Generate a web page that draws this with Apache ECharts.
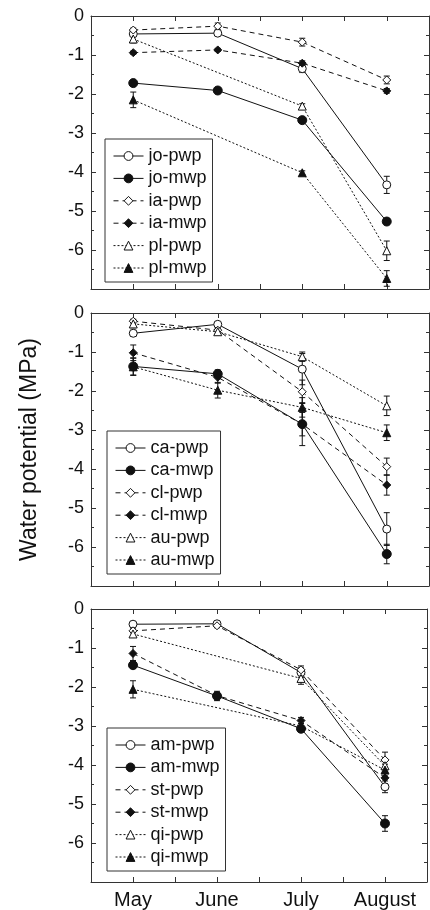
<!DOCTYPE html>
<html lang="en">
<head>
<meta charset="utf-8">
<title>Water potential</title>
<style>
  html, body { margin: 0; padding: 0; background: #fff; }
  #chart { width: 430px; height: 910px; }
</style>
</head>
<body>
<div id="chart"></div>
<script src="https://cdn.jsdelivr.net/npm/echarts@6/dist/echarts.min.js"></script>
<script>
// months on the x axis
var months = ['May', 'June', 'July', 'August'];
var yTicks = [0, -1, -2, -3, -4, -5, -6];

// top panel
var names1 = ['jo-pwp', 'jo-mwp', 'ia-pwp', 'ia-mwp', 'pl-pwp', 'pl-mwp'];
var values1 = [
  [-0.46, -0.44, -1.35, -4.33],
  [-1.72, -1.91, -2.67, -5.27],
  [-0.36, -0.26, -0.67, -1.64],
  [-0.94, -0.87, -1.21, -1.92],
  [-0.59, null, -2.31, -6.02],
  [-2.15, null, -4.02, -6.73]
];
var errors1 = [
  [0.05, 0.05, 0.1, 0.22],
  [0.04, 0.05, 0.06, 0.08],
  [0.05, 0.08, 0.1, 0.1],
  [0.04, 0.04, 0.06, 0.06],
  [0.1, null, 0.06, 0.25],
  [0.2, null, 0.05, 0.2]
];

// middle panel
var names2 = ['ca-pwp', 'ca-mwp', 'cl-pwp', 'cl-mwp', 'au-pwp', 'au-mwp'];
var values2 = [
  [-0.52, -0.29, -1.44, -5.54],
  [-1.37, -1.56, -2.85, -6.18],
  [-0.21, -0.44, -2.02, -3.94],
  [-1.02, -1.65, -2.85, -4.41],
  [-0.28, -0.48, -1.12, -2.38],
  [-1.38, -1.98, -2.42, -3.07]
];
var errors2 = [
  [0.08, 0.05, 0.4, 0.42],
  [0.22, 0.1, 0.55, 0.25],
  [0.05, 0.08, 0.3, 0.22],
  [0.2, 0.15, 0.3, 0.26],
  [0.1, 0.08, 0.12, 0.25],
  [0.22, 0.2, 0.25, 0.2]
];

// bottom panel
var names3 = ['am-pwp', 'am-mwp', 'st-pwp', 'st-mwp', 'qi-pwp', 'qi-mwp'];
var values3 = [
  [-0.39, -0.38, -1.63, -4.56],
  [-1.44, -2.23, -3.07, -5.50],
  [-0.56, -0.43, -1.56, -3.87],
  [-1.14, -2.22, -2.86, -4.33],
  [-0.64, null, -1.78, -4.02],
  [-2.06, null, -3.00, -4.13]
];
var errors3 = [
  [0.05, 0.05, 0.12, 0.15],
  [0.08, 0.12, 0.06, 0.2],
  [0.05, 0.05, 0.1, 0.2],
  [0.18, 0.08, 0.08, 0.15],
  [0.06, null, 0.15, 0.15],
  [0.22, null, 0.06, 0.15]
];

var font = 'Liberation Sans, Arial, sans-serif';
var ink = '#111';
var symbols = ['circle', 'circle', 'diamond', 'diamond', 'triangle', 'triangle'];
var filled = [false, true, false, true, false, true];
var dashes = ['solid', 'solid', [5, 4], [5, 4], [2, 2], [2, 2]];
var sizes = [8, 9, 8, 8, 8, 8];

var grids = [
  {left: 91, right: 1, top: 16, height: 273},
  {left: 91, right: 1, top: 313, height: 273},
  {left: 91, right: 1, top: 609, height: 273}
];
var legendPos = [
  {left: 105, top: 139},
  {left: 107, top: 431},
  {left: 107, top: 728}
];

function xAxisFor(i, pos) {
  return {
    type: 'value', gridIndex: i, position: pos,
    min: -0.5, max: 3.5, interval: 0.5,
    axisLine: {onZero: false, lineStyle: {color: '#333', width: 1}},
    axisTick: {inside: true, length: 5, lineStyle: {color: '#333'}},
    splitLine: {show: false},
    axisLabel: {
      show: pos === 'bottom' && i === 2,
      margin: 8,
      fontFamily: font, fontSize: 20, color: ink,
      formatter: function (v) {
        return Number.isInteger(v) && v >= 0 && v < months.length ? months[v] : '';
      }
    }
  };
}

function yAxisFor(i, pos) {
  var ax = {
    type: 'value', gridIndex: i, position: pos,
    min: -7, max: 0, interval: 1,
    axisLine: {show: true, onZero: false, lineStyle: {color: '#333', width: 1}},
    axisTick: {show: true, inside: true, length: 5, lineStyle: {color: '#333'}},
    minorTick: {show: true, splitNumber: 2, length: 3, lineStyle: {color: '#333'}},
    splitLine: {show: false},
    axisLabel: {
      show: pos === 'left',
      margin: 7,
      fontFamily: font, fontSize: 18, color: ink,
      formatter: function (v) {
        return yTicks.indexOf(v) >= 0 ? String(v) : '';
      }
    }
  };
  if (pos === 'left' && i === 1) {
    ax.name = 'Water potential (MPa)';
    ax.nameLocation = 'middle';
    ax.nameGap = 50;
    ax.nameTextStyle = {fontFamily: font, fontSize: 23, color: ink};
  }
  return ax;
}

var xAxes = [], yAxes = [], series = [], legends = [];
var panels = [
  [names1, values1, errors1],
  [names2, values2, errors2],
  [names3, values3, errors3]
];

panels.forEach(function (p, i) {
  xAxes.push(xAxisFor(i, 'bottom'));
  xAxes.push(xAxisFor(i, 'top'));
  yAxes.push(yAxisFor(i, 'left'));
  yAxes.push(yAxisFor(i, 'right'));

  var names = p[0], values = p[1], errors = p[2];
  var bars = [];
  names.forEach(function (name, k) {
    var pts = values[k].map(function (v, m) { return [m, v]; });
    series.push({
      name: name, type: 'line',
      xAxisIndex: i * 2, yAxisIndex: i * 2,
      data: pts, connectNulls: true,
      symbol: symbols[k], symbolSize: sizes[k],
      lineStyle: {color: ink, width: 1, type: dashes[k]},
      itemStyle: {color: filled[k] ? ink : '#fff', borderColor: ink, borderWidth: 1, opacity: 1},
      emphasis: {disabled: true},
      z: 3
    });
    values[k].forEach(function (v, m) {
      var e = errors[k][m];
      if (v != null && e) bars.push([m, v - e, v + e]);
    });
  });

  // error bars
  series.push({
    type: 'custom',
    xAxisIndex: i * 2, yAxisIndex: i * 2,
    data: bars, z: 2,
    renderItem: function (params, api) {
      var top = api.coord([api.value(0), api.value(2)]);
      var bot = api.coord([api.value(0), api.value(1)]);
      var w = 3;
      var st = {stroke: ink, lineWidth: 1};
      return {
        type: 'group',
        children: [
          {type: 'line', shape: {x1: top[0], y1: top[1], x2: bot[0], y2: bot[1]}, style: st},
          {type: 'line', shape: {x1: top[0] - w, y1: top[1], x2: top[0] + w, y2: top[1]}, style: st},
          {type: 'line', shape: {x1: bot[0] - w, y1: bot[1], x2: bot[0] + w, y2: bot[1]}, style: st}
        ]
      };
    }
  });

  legends.push({
    data: names,
    orient: 'vertical',
    left: legendPos[i].left, top: legendPos[i].top,
    itemWidth: 30, itemHeight: 11, itemGap: 4.4,
    padding: [8, 6, 5, 8],
    borderColor: '#333', borderWidth: 1,
    selectedMode: false,
    lineStyle: {width: 1},
    itemStyle: {borderWidth: 1},
    textStyle: {fontFamily: font, fontSize: 18, color: ink, lineHeight: 16}
  });
});

var chart = echarts.init(document.getElementById('chart'));
chart.setOption({
  animation: false,
  backgroundColor: '#fff',
  grid: grids,
  xAxis: xAxes,
  yAxis: yAxes,
  legend: legends,
  series: series
});
</script>
</body>
</html>
